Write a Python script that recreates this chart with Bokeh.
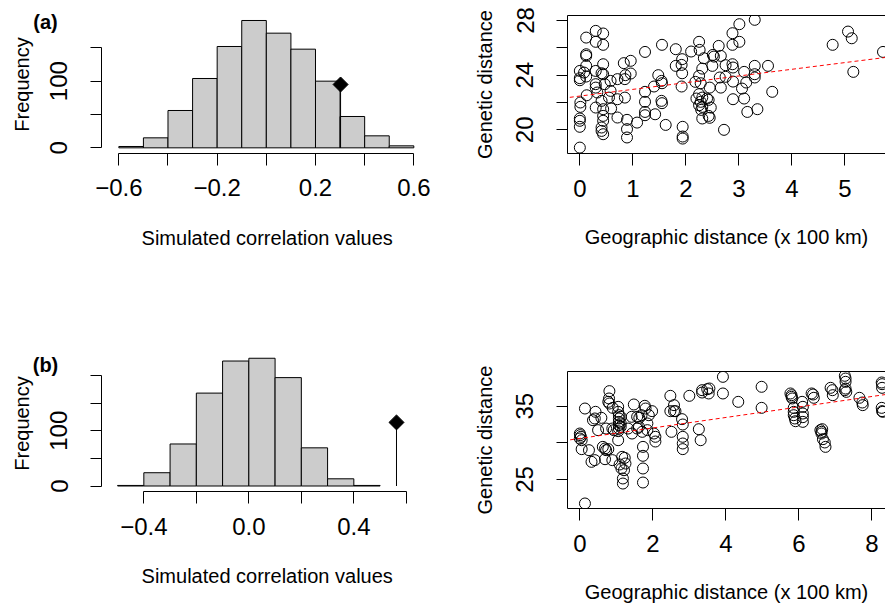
import math
from bokeh.plotting import figure
from bokeh.layouts import column, row
from bokeh.models import FixedTicker, LinearAxis, Range1d, Slope, Label
from bokeh.embed import file_html
from bokeh.resources import INLINE

FONT = "Liberation Sans"

# ---------------- data ----------------
# (a) permutation histogram
breaks_a = [-0.6, -0.5, -0.4, -0.3, -0.2, -0.1, 0.0, 0.1, 0.2, 0.3, 0.4, 0.5, 0.6]
counts_a = [2, 15, 56, 104, 152, 191, 172, 148, 100, 47, 18, 3]
observed_a = 0.302
observed_a_freq = 95

# (b) permutation histogram
breaks_b = [-0.5, -0.4, -0.3, -0.2, -0.1, 0.0, 0.1, 0.2, 0.3, 0.4, 0.5]
counts_b = [1, 24, 76, 168, 226, 231, 196, 69, 13, 1]
observed_b = 0.5625
observed_b_freq = 115

# (a) scatter: geographic vs genetic distance
geo_a = [0.30, 0.44, 0.12, 0.30, 0.44, 1.55, 1.23, 1.81, 2.10, 2.25, 2.26, 2.62,
         0.12, 0.12, 0.44, 0.83, 0.96, 1.93, 1.92, 1.81, 2.34, 2.51, 2.53, 2.66,
         2.50, 2.75, 0.00, 0.12, 0.08, 0.12, 0.30, 0.41, 0.44, 0.86, 0.96, 1.48,
         1.93, 2.31, 2.25, 2.64, 2.75, 0.00, 0.00, 0.13, 0.30, 0.30, 0.47, 0.58,
         0.71, 0.85, 1.54, 1.55, 1.40, 1.23, 1.92, 2.18, 2.28, 2.45, 2.66, 0.01,
         0.01, 0.33, 0.41, 0.55, 0.58, 0.71, 0.85, 1.23, 1.54, 1.55, 2.20, 2.25,
         2.31, 2.28, 2.40, 2.43, 0.30, 0.44, 0.59, 2.25, 2.31, 2.47, 2.29, 1.23,
         1.23, 1.42, 0.71, 0.44, 0.00, 0.00, 0.44, 0.89, 1.08, 1.62, 2.31, 2.43,
         2.45, 0.00, 0.41, 0.41, 0.44, 0.89, 1.94, 2.72, 0.89, 1.94, 1.94, 0.00,
         3.01, 3.30, 2.88, 2.88, 3.01, 2.88, 2.89, 2.89, 3.10, 3.14, 3.06, 3.30,
         3.30, 3.30, 3.55, 3.63, 2.89, 3.10, 3.16, 3.35, 4.77, 5.06, 5.13, 5.16,
         5.72]
gen_a = [27.24, 27.05, 26.75, 26.44, 26.22, 26.22, 25.70, 25.90, 25.73, 26.44, 25.85, 26.14,
         25.53, 25.41, 24.80, 24.88, 25.05, 25.17, 24.75, 24.68, 25.24, 25.48, 25.36, 25.41,
         24.68, 24.73, 24.31, 24.68, 24.19, 23.90, 24.31, 24.14, 24.07, 24.00, 24.12, 24.00,
         24.14, 24.48, 23.95, 23.83, 23.88, 23.78, 23.63, 22.53, 23.34, 23.09, 23.34, 23.58,
         23.71, 23.71, 23.58, 23.41, 23.17, 22.78, 23.17, 23.51, 23.41, 23.09, 23.09, 22.00,
         21.68, 22.73, 22.12, 22.36, 22.85, 22.24, 22.36, 22.05, 22.12, 21.95, 22.29, 22.61,
         22.36, 22.05, 22.29, 22.19, 21.63, 21.51, 21.56, 21.80, 21.68, 21.63, 21.46, 21.31,
         21.07, 21.14, 20.90, 21.02, 20.83, 20.66, 20.66, 20.73, 20.53, 20.36, 20.83, 21.02,
         20.88, 20.22, 20.17, 19.92, 19.68, 20.05, 20.22, 20.00, 19.44, 19.51, 19.36, 18.70,
         27.73, 28.05, 27.07, 26.22, 26.44, 24.80, 24.56, 23.53, 24.24, 23.46, 23.02, 24.68,
         24.07, 23.83, 24.68, 22.78, 22.24, 22.29, 21.31, 21.51, 26.22, 27.19, 26.70, 24.24,
         25.70]
fit_a_intercept = 22.47
fit_a_slope = 0.49

# (b) scatter
geo_b = [0.14, 0.00, 0.01, 0.03, 0.00, 0.05, 0.14, 0.05, 0.25, 0.32, 0.41, 0.43,
         0.41, 0.36, 0.50, 0.59, 0.63, 0.69, 0.72, 0.78, 0.69, 0.72, 0.81, 0.80,
         0.78, 0.81, 0.89, 0.89, 0.93, 0.90, 1.05, 1.05, 1.07, 1.07, 1.07, 1.07,
         1.07, 1.05, 1.05, 1.12, 1.12, 1.12, 1.16, 1.23, 1.09, 1.14, 1.21, 1.18,
         1.18, 1.25, 1.32, 1.43, 1.48, 1.42, 1.57, 1.63, 1.69, 1.57, 1.62, 1.71,
         1.73, 1.73, 1.73, 1.73, 1.78, 1.80, 1.85, 1.85, 1.89, 1.98, 2.03, 2.07,
         2.07, 2.48, 2.51, 2.48, 2.58, 2.58, 2.62, 2.80, 2.82, 2.82, 2.82, 2.82,
         3.00, 3.26, 3.31, 3.35, 3.49, 3.55, 3.53, 3.35, 3.92, 3.92,
         4.98, 4.98, 4.34, 5.77, 5.80, 5.82, 5.86, 5.86, 5.86, 5.89, 5.91, 6.09,
         6.11, 6.11, 6.11, 5.80, 6.11, 6.35, 6.39, 6.41, 6.59, 6.64, 6.62, 6.66,
         6.71, 6.73, 6.62, 6.87, 6.92, 6.93, 7.26, 7.28, 7.28, 7.26, 7.30, 7.28,
         7.66, 7.74, 7.75, 8.27, 8.28, 8.27, 8.28, 8.30, 8.28]
gen_b = [21.73, 31.27, 31.05, 30.82, 30.59, 30.36, 34.68, 29.14, 29.00, 27.41, 27.64, 34.23,
         33.32, 33.09, 31.73, 33.41, 29.45, 29.23, 29.00, 29.14, 27.77, 31.95, 37.05, 36.05,
         35.59, 35.36, 27.64, 31.95, 31.73, 34.77, 34.91, 34.23, 33.77, 33.32, 32.86, 32.41,
         31.95, 31.59, 30.36, 33.55, 32.64, 32.18, 28.09, 27.95, 27.05, 26.50, 26.27, 25.14,
         24.45, 27.18, 31.95, 31.27, 35.23, 33.55, 33.55, 33.41, 33.77, 31.95, 32.18, 31.50,
         29.45, 28.23, 26.50, 24.59, 35.05, 34.68, 32.64, 31.73, 33.77, 34.32, 31.27, 30.82,
         30.18, 36.41, 31.50, 34.32, 35.14, 34.32, 34.32, 33.23, 32.50, 30.82, 29.91, 29.14,
         36.41, 31.86, 30.36, 37.18, 37.32, 37.41, 36.73, 36.86, 39.00, 36.73,
         37.64, 34.77, 35.59, 36.73, 36.27, 36.05, 34.77, 34.23, 33.77, 33.32, 32.95, 35.59,
         34.91, 34.00, 32.86, 36.50, 33.50, 36.73, 36.59, 36.14, 31.73, 31.86, 31.27, 30.50,
         30.05, 29.45, 31.50, 37.50, 37.18, 36.50, 39.14, 38.77, 38.32, 37.18, 36.95, 37.40,
         36.14, 35.50, 35.14, 38.23, 37.50, 34.77, 34.32, 34.23, 38.00]
fit_b_intercept = 30.6
fit_b_slope = 0.715

# tick positions and labels
hist_a_ticks = [-0.6, -0.4, -0.2, 0.0, 0.2, 0.4, 0.6]
hist_a_tick_labels = ["\u22120.6", "", "\u22120.2", "", "0.2", "", "0.6"]
freq_a_ticks = [0, 50, 100, 150]
freq_a_tick_labels = ["0", "", "100", ""]
hist_b_ticks = [-0.4, -0.2, 0.0, 0.2, 0.4, 0.6]
hist_b_tick_labels = ["\u22120.4", "", "0.0", "", "0.4", ""]
freq_b_ticks = [0, 50, 100, 150, 200]
freq_b_tick_labels = ["0", "", "100", "", ""]
geo_a_ticks = [0, 1, 2, 3, 4, 5]
geo_a_tick_labels = ["0", "1", "2", "3", "4", "5"]
gen_a_ticks = [20, 22, 24, 26, 28]
gen_a_tick_labels = ["20", "", "24", "", "28"]
geo_b_ticks = [0, 2, 4, 6, 8]
geo_b_tick_labels = ["0", "2", "4", "6", "8"]
gen_b_ticks = [25, 30, 35]
gen_b_tick_labels = ["25", "", "35"]

HIST_X_TITLE = "Simulated correlation values"
HIST_Y_TITLE = "Frequency"
SC_X_TITLE = "Geographic distance (x 100 km)"
SC_Y_TITLE = "Genetic distance"


def style_axis(ax, ticks, labels, bottom):
    ax.ticker = FixedTicker(ticks=ticks)
    ax.major_label_overrides = {t: l for t, l in zip(ticks, labels)}
    ax.axis_line_color = "black"
    ax.major_tick_line_color = "black"
    ax.minor_tick_line_color = None
    ax.major_tick_in = 0
    ax.major_label_text_font = FONT
    ax.major_label_text_font_size = "24px"
    ax.major_label_text_color = "black"
    ax.axis_label_text_font = FONT
    ax.axis_label_text_font_size = "20px"
    ax.axis_label_text_font_style = "normal"
    ax.axis_label_text_color = "black"
    if bottom:
        ax.major_tick_out = 12
        ax.major_label_standoff = 14
        ax.axis_label_standoff = 26
    else:
        ax.major_tick_out = 11
        ax.major_label_standoff = 23
        ax.axis_label_standoff = 18
        ax.major_label_orientation = "parallel"


def base_fig(w, h, xr, yr, left, right, top, bottom):
    p = figure(width=w, height=h, x_range=Range1d(*xr), y_range=Range1d(*yr),
               toolbar_location=None, output_backend="svg",
               min_border_left=left, min_border_right=right,
               min_border_top=top, min_border_bottom=bottom)
    p.grid.visible = False
    p.outline_line_color = None
    p.background_fill_color = "white"
    p.border_fill_color = "white"
    return p


def text_label(x, y, text, size, bold=False, angle=0.0):
    return Label(x=x, y=y, text=text, text_font=FONT, text_font_size=size,
                 text_font_style="bold" if bold else "normal", text_color="black",
                 text_align="center", text_baseline="middle", angle=angle)


def hist_fig(w, h, geom, breaks, counts, obs, obs_freq,
             xticks, xlabels, yticks, ylabels, tag):
    # geom: pixel geometry of the panel (canvas coordinates, frame = whole canvas)
    x_val, x_px, x_scale = geom["x_anchor"]
    y0_px, y_scale = geom["y_zero"]
    xr = (x_val - x_px / x_scale, x_val + (w - x_px) / x_scale)
    yr = (-(h - y0_px) / y_scale, y0_px / y_scale)

    def dx(px):
        return xr[0] + px / x_scale

    def dy(py):
        return yr[1] - py / y_scale

    p = base_fig(w, h, xr, yr, 0, 0, 0, 0)
    p.quad(left=breaks[:-1], right=breaks[1:], bottom=0, top=counts,
           fill_color="#CCCCCC", line_color="black", line_width=1)
    p.segment(x0=[obs], y0=[0], x1=[obs], y1=[obs_freq], line_color="black", line_width=1)
    p.scatter(x=[obs], y=[obs_freq], marker="square", angle=math.pi / 4, size=10.6,
              fill_color="black", line_color="black")
    style_axis(p.xaxis[0], xticks, xlabels, True)
    style_axis(p.yaxis[0], yticks, ylabels, False)
    p.xaxis[0].bounds = (xticks[0], xticks[-1])
    p.yaxis[0].bounds = (yticks[0], yticks[-1])
    p.xaxis[0].fixed_location = dy(geom["xaxis_py"])
    p.yaxis[0].fixed_location = dx(geom["yaxis_px"])
    tx, ty = geom["xtitle"]
    p.add_layout(text_label(dx(tx), dy(ty), HIST_X_TITLE, "20px"))
    vx, vy = geom["ytitle"]
    p.add_layout(text_label(dx(vx), dy(vy), HIST_Y_TITLE, "20px", angle=math.pi / 2))
    gx, gy = geom["tag"]
    p.add_layout(text_label(dx(gx), dy(gy), tag, "20px", bold=True))
    return p


def scatter_fig(w, h, xr, yr, borders, xs, ys, icpt, slope,
                xticks, xlabels, yticks, ylabels):
    p = base_fig(w, h, xr, yr, *borders)
    p.scatter(x=xs, y=ys, marker="circle", size=11, fill_color=None,
              line_color="black", line_width=1)
    p.add_layout(Slope(gradient=slope, y_intercept=icpt, line_color="red",
                       line_dash="4 3", line_width=1))
    style_axis(p.xaxis[0], xticks, xlabels, True)
    style_axis(p.yaxis[0], yticks, ylabels, False)
    p.xaxis[0].axis_label = SC_X_TITLE
    p.yaxis[0].axis_label = SC_Y_TITLE
    top = LinearAxis(ticker=FixedTicker(ticks=[]), major_tick_out=0, major_tick_in=0,
                     major_label_text_font_size="0px", axis_line_color="black",
                     minor_tick_line_color=None)
    p.add_layout(top, "above")
    return p


geom_a = dict(x_anchor=(-0.6, 118.33, 245.83), y_zero=(147.33, 0.6667),
              xaxis_py=152.7, yaxis_px=101, xtitle=(266.7, 237.0),
              ytitle=(21.0, 84.0), tag=(45, 21))
geom_b = dict(x_anchor=(-0.4, 143.33, 262.5), y_zero=(182.5, 0.553),
              xaxis_py=188.2, yaxis_px=101, xtitle=(266.7, 272.5),
              ytitle=(21.0, 120.0), tag=(45, 61))

TL = hist_fig(442, 303, geom_a, breaks_a, counts_a, observed_a, observed_a_freq,
              hist_a_ticks, hist_a_tick_labels, freq_a_ticks, freq_a_tick_labels, "(a)")
BL = hist_fig(442, 303, geom_b, breaks_b, counts_b, observed_b, observed_b_freq,
              hist_b_ticks, hist_b_tick_labels, freq_b_ticks, freq_b_tick_labels, "(b)")
TR = scatter_fig(443, 303, (-0.2327, 5.767), (18.268, 28.366), (125, 0, 15, 150),
                 geo_a, gen_a, fit_a_intercept, fit_a_slope,
                 geo_a_ticks, geo_a_tick_labels, gen_a_ticks, gen_a_tick_labels)
BR = scatter_fig(443, 303, (-0.3379, 8.374), (21.045, 39.728), (125, 0, 68, 98),
                 geo_b, gen_b, fit_b_intercept, fit_b_slope,
                 geo_b_ticks, geo_b_tick_labels, gen_b_ticks, gen_b_tick_labels)

layout = row(column(TL, BL), column(TR, BR))
open("out.html", "w").write(file_html(layout, INLINE))
